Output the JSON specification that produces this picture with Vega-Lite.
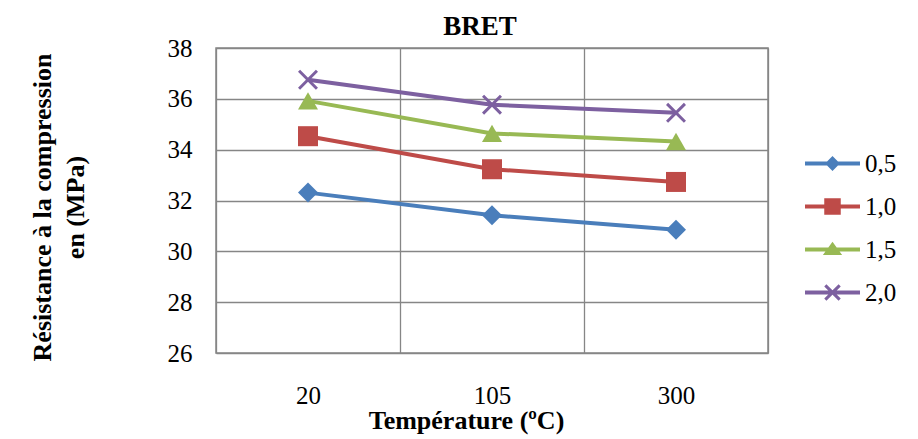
{
  "$schema": "https://vega.github.io/schema/vega-lite/v6.json",
  "autosize": "none",
  "width": 552,
  "height": 305,
  "padding": {"left": 216, "top": 48, "right": 150, "bottom": 86},
  "background": "white",
  "title": {"text": "BRET", "font": "Liberation Serif", "fontSize": 27, "fontWeight": "bold", "color": "black", "baseline": "alphabetic", "offset": 11, "dx": -12, "dy": 37, "anchor": "middle", "frame": "group"},
  "config": {"view": {"stroke": "#868686", "strokeWidth": 1.5}, "font": "Liberation Serif"},
  "data": {"values": [
    {"temp": 20, "series": "0,5", "value": 32.31},
    {"temp": 105, "series": "0,5", "value": 31.42},
    {"temp": 300, "series": "0,5", "value": 30.85},
    {"temp": 20, "series": "1,0", "value": 34.53},
    {"temp": 105, "series": "1,0", "value": 33.23},
    {"temp": 300, "series": "1,0", "value": 32.73},
    {"temp": 20, "series": "1,5", "value": 35.92},
    {"temp": 105, "series": "1,5", "value": 34.64},
    {"temp": 300, "series": "1,5", "value": 34.32},
    {"temp": 20, "series": "2,0", "value": 36.75},
    {"temp": 105, "series": "2,0", "value": 35.77},
    {"temp": 300, "series": "2,0", "value": 35.45}
  ]},
  "encoding": {
    "x": {"field": "temp", "type": "ordinal", "sort": "ascending",
      "scale": {"type": "band", "paddingInner": 0, "paddingOuter": 0},
      "axis": {"title": "Température (ºC)", "titleFont": "Liberation Serif", "titleFontSize": 26, "titleFontWeight": "bold", "titleColor": "black", "titleX": 250, "titleY": 75, "titleBaseline": "alphabetic", "titleAlign": "center",
        "labelFont": "Liberation Serif", "labelFontSize": 25, "labelColor": "black", "labelAngle": 0, "labelBaseline": "alphabetic", "labelPadding": 50,
        "ticks": false, "tickSize": 0, "domain": false, "grid": true, "gridColor": "#868686", "gridWidth": 1.3, "tickBand": "extent"}},
    "y": {"field": "value", "type": "quantitative",
      "scale": {"domain": [26, 38], "nice": false, "zero": false},
      "axis": {"title": ["Résistance à la compression", "en (MPa)"], "titleFont": "Liberation Serif", "titleFontSize": 26, "titleFontWeight": "bold", "titleColor": "black", "titleX": -166, "titleY": 159, "titleAngle": 270, "titleBaseline": "alphabetic", "titleAlign": "center", "titleLineHeight": 33,
        "values": [26, 28, 30, 32, 34, 36, 38], "labelFont": "Liberation Serif", "labelFontSize": 25, "labelColor": "black", "labelPadding": 24,
        "ticks": false, "tickSize": 0, "domain": false, "grid": true, "gridColor": "#868686", "gridWidth": 1.3}}
  },
  "layer": [
    {"mark": {"type": "line", "strokeWidth": 4},
      "encoding": {
        "color": {"field": "series", "type": "nominal", "scale": {"domain": ["0,5", "1,0", "1,5", "2,0"], "range": ["#4A7EBB", "#BE4B48", "#98B954", "#7D60A0"]}, "legend": null},
        "order": {"field": "temp", "type": "quantitative"}}},
    {"mark": {"type": "point", "filled": true, "opacity": 1, "size": 400},
      "encoding": {
        "color": {"field": "series", "type": "nominal", "scale": {"domain": ["0,5", "1,0", "1,5", "2,0"], "range": ["#4A7EBB", "#BE4B48", "#98B954", "#7D60A0"]}, "legend": null},
        "shape": {"field": "series", "type": "nominal", "scale": {"domain": ["0,5", "1,0", "1,5", "2,0"], "range": ["diamond", "square", "triangle-up", "M-0.79,-1L1,0.79L0.79,1L-1,-0.79ZM0.79,-1L1,-0.79L-0.79,1L-1,0.79Z"]}, "legend": null}}},
    {"mark": {"type": "point", "filled": true, "opacity": 0, "size": 3025},
      "encoding": {
        "color": {"field": "series", "type": "nominal", "scale": {"domain": ["0,5", "1,0", "1,5", "2,0"], "range": ["#4A7EBB", "#BE4B48", "#98B954", "#7D60A0"]},
          "legend": {"title": null, "orient": "none", "legendX": 589, "legendY": 88, "labelFont": "Liberation Serif", "labelFontSize": 25, "labelColor": "black", "symbolSize": 3025, "symbolOpacity": 1, "symbolStrokeWidth": 0, "labelOffset": 5, "rowPadding": 2, "padding": 0}},
        "shape": {"field": "series", "type": "nominal", "scale": {"domain": ["0,5", "1,0", "1,5", "2,0"], "range": [
          "M-1,-0.075H1V0.075H-1ZM-0.27,0L0,-0.27L0.27,0L0,0.27Z",
          "M-1,-0.075H1V0.075H-1ZM-0.3,-0.3H0.3V0.3H-0.3Z",
          "M-1,-0.075H1V0.075H-1ZM0,-0.28L0.35,0.2L-0.35,0.2Z",
          "M-1,-0.075H1V0.075H-1ZM-0.222,-0.3L0.3,0.222L0.222,0.3L-0.3,-0.222ZM0.222,-0.3L0.3,-0.222L-0.222,0.3L-0.3,0.222Z"]},
          "legend": {"title": null, "orient": "none", "legendX": 589, "legendY": 88, "labelFont": "Liberation Serif", "labelFontSize": 25, "labelColor": "black", "symbolSize": 3025, "symbolOpacity": 1, "symbolStrokeWidth": 0, "labelOffset": 5, "rowPadding": 2, "padding": 0}}}}
  ],
  "resolve": {"scale": {"color": "independent", "shape": "independent"}}
}
